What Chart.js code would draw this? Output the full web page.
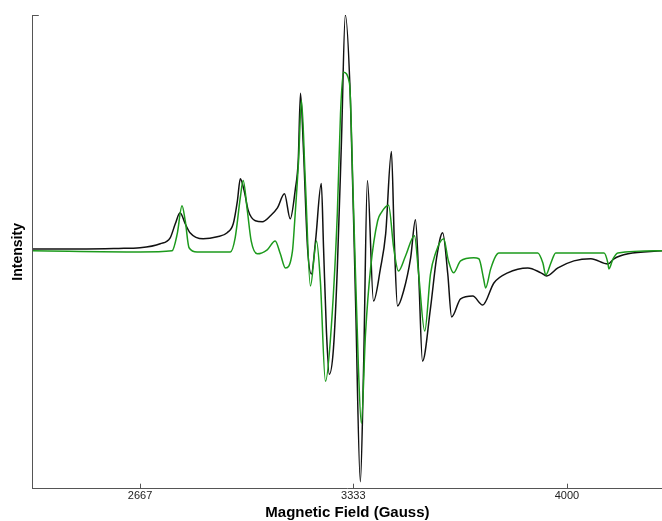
<!DOCTYPE html>
<html>
<head>
<meta charset="utf-8">
<script src="https://cdn.jsdelivr.net/npm/chart.js@4.4.1/dist/chart.umd.min.js"></script>
<style>
  html, body { margin: 0; padding: 0; background: #fff; }
  #wrap { width: 662px; height: 521px; }
</style>
</head>
<body>
<div id="wrap"><canvas id="espectro"></canvas></div>
<script>
// campo magnetico (G) e intensidade normalizada de cada espectro
var campoPreto = [2332, 2500, 2600, 2667, 2730, 2761, 2777, 2792, 2808, 2823, 2864, 2908, 2939, 2958, 2971, 2980, 2992, 3005, 3027, 3049,
    3074, 3096, 3118, 3136, 3152, 3161, 3168, 3177, 3190, 3202, 3215, 3233, 3240, 3249, 3258, 3271, 3283, 3296, 3308, 3324,
    3340, 3355, 3365, 3377, 3396, 3418, 3434, 3452, 3461, 3471, 3490, 3512, 3527, 3537, 3549, 3574, 3593, 3612, 3628, 3640,
    3668, 3706, 3737, 3772, 3815, 3878, 3919, 3937, 3972, 4022, 4075, 4128, 4147, 4191, 4297];
var intensidadePreto = [0.004, 0.004, 0.006, 0.009, 0.026, 0.051, 0.111, 0.158, 0.111, 0.073, 0.047, 0.056, 0.073, 0.111, 0.209, 0.303, 0.252, 0.167, 0.124, 0.120,
    0.145, 0.179, 0.239, 0.132, 0.26, 0.38, 0.667, 0.436, 0.009, -0.103, 0.038, 0.282, 0.009, -0.346, -0.530, -0.419, -0.08, 0.466, 1.0, 0.637,
    -0.218, -0.987, -0.504, 0.295, -0.218, -0.077, 0.068, 0.419, 0.038, -0.239, -0.175, -0.034, 0.128, -0.103, -0.474, -0.248, -0.034, 0.073, -0.103, -0.286,
    -0.209, -0.197, -0.235, -0.141, -0.098, -0.077, -0.098, -0.111, -0.077, -0.047, -0.038, -0.060, -0.038, -0.017, -0.004];

var campoVerde = [2332, 2667, 2767, 2783, 2798, 2808, 2820, 2845, 2949, 2964, 2980, 2989, 3002, 3014, 3033, 3064, 3089, 3105, 3121, 3143,
    3150, 3162, 3171, 3183, 3199, 3218, 3230, 3246, 3261, 3283, 3293, 3302, 3321, 3333, 3349, 3358, 3371, 3387, 3409, 3421,
    3443, 3459, 3474, 3496, 3524, 3537, 3556, 3574, 3590, 3615, 3630, 3646, 3668, 3709, 3725, 3740, 3746, 3762, 3778, 3787,
    3909, 3925, 3934, 3950, 3965, 4116, 4128, 4131, 4144, 4159, 4297];
var intensidadeVerde = [-0.004, -0.009, -0.004, 0.068, 0.188, 0.124, 0.009, -0.009, -0.009, 0.051, 0.222, 0.295, 0.167, 0.038, -0.017, 0.0, 0.038, -0.017, -0.077, -0.004,
    0.124, 0.38, 0.637, 0.295, -0.154, 0.038, -0.132, -0.560, -0.389, 0.154, 0.581, 0.756, 0.709, 0.209, -0.504, -0.739, -0.359, -0.077, 0.124, 0.16,
    0.19, 0.009, -0.09, -0.026, 0.06, -0.103, -0.346, -0.103, -0.013, 0.047, -0.047, -0.098, -0.047, -0.034, -0.038, -0.124, -0.162, -0.081, -0.026, -0.013,
    -0.013, -0.056, -0.107, -0.056, -0.013, -0.013, -0.056, -0.081, -0.038, -0.013, -0.004];

var marcasCampo = [2667, 3333, 4000];

function pares(xs, ys) {
    return xs.map(function(x, i) { return { x: x, y: ys[i] }; });
}

// tracinhos para dentro no eixo x e no topo do eixo y
var marcasInternas = {
    id: 'marcasInternas',
    afterDraw: function(chart) {
        var ctx = chart.ctx;
        var sx = chart.scales.x;
        var sy = chart.scales.y;
        ctx.save();
        ctx.strokeStyle = '#555';
        ctx.lineWidth = 1;
        ctx.beginPath();
        marcasCampo.forEach(function(v) {
            var px = Math.round(sx.getPixelForValue(v)) + 0.5;
            ctx.moveTo(px, sy.bottom);
            ctx.lineTo(px, sy.bottom - 5);
        });
        ctx.moveTo(sx.left, sy.top + 0.5);
        ctx.lineTo(sx.left + 6, sy.top + 0.5);
        ctx.stroke();
        ctx.restore();
    }
};

var espectro = new Chart(document.getElementById('espectro').getContext('2d'), {
    type: 'line',
    data: {
        datasets: [{
            // verde por cima do preto
            label: 'Simulado',
            data: pares(campoVerde, intensidadeVerde),
            borderColor: '#1c9a1c',
            borderWidth: 1.5,
            pointRadius: 0,
            cubicInterpolationMode: 'monotone',
            fill: false
        }, {
            label: 'Experimental',
            data: pares(campoPreto, intensidadePreto),
            borderColor: '#111111',
            borderWidth: 1.5,
            pointRadius: 0,
            cubicInterpolationMode: 'monotone',
            fill: false
        }]
    },
    options: {
        responsive: true,
        maintainAspectRatio: false,
        animation: false,
        layout: {
            padding: { top: 15, right: 0, left: 8, bottom: 0 }
        },
        plugins: {
            legend: { display: false },
            tooltip: { enabled: false }
        },
        scales: {
            x: {
                type: 'linear',
                min: 2332,
                max: 4297,
                afterBuildTicks: function(axis) {
                    axis.ticks = marcasCampo.map(function(v) { return { value: v }; });
                },
                ticks: {
                    padding: 1,
                    color: '#222',
                    font: { family: 'Liberation Sans, Arial, sans-serif', size: 11 },
                    callback: function(v) { return String(v); }
                },
                grid: { display: false, drawTicks: false },
                border: { display: true, color: '#555', width: 1 },
                title: {
                    display: true,
                    text: 'Magnetic Field (Gauss)',
                    color: '#000',
                    padding: { top: 0, bottom: 0 },
                    font: { family: 'Liberation Sans, Arial, sans-serif', size: 15, weight: 'bold', lineHeight: 1.14 }
                }
            },
            y: {
                min: -1.017,
                max: 1.0,
                ticks: { display: false },
                grid: { display: false, drawTicks: false },
                border: { display: true, color: '#555', width: 1 },
                title: {
                    display: true,
                    text: 'Intensity',
                    color: '#000',
                    padding: { top: 2, bottom: 6 },
                    font: { family: 'Liberation Sans, Arial, sans-serif', size: 14, weight: 'bold' }
                }
            }
        }
    },
    plugins: [marcasInternas]
});
</script>
</body>
</html>
